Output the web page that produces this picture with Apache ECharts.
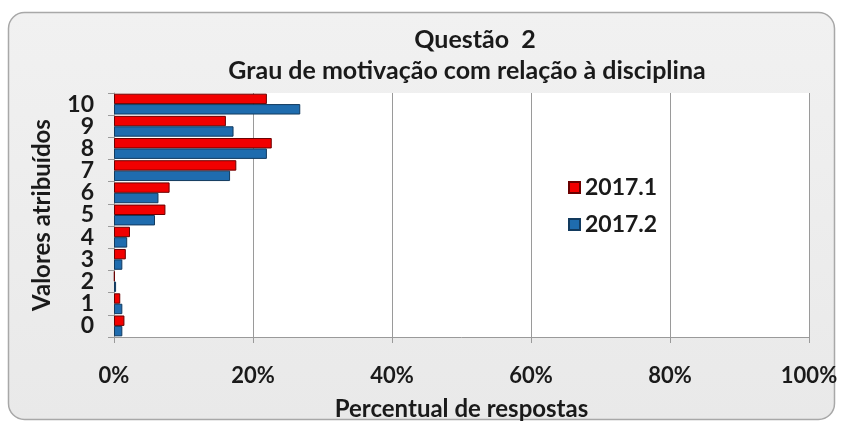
<!DOCTYPE html>
<html>
<head>
<meta charset="utf-8">
<script src="https://cdn.jsdelivr.net/npm/echarts@6/dist/echarts.min.js"></script>
<style>html,body{margin:0;padding:0;background:#fff}#c{width:846px;height:426px}</style>
</head>
<body>
<div id="c"></div>
<script>
const categories = ['0','1','2','3','4','5','6','7','8','9','10'];
const series2017_1 = [1.5, 0.9, 0.1, 1.7, 2.3, 7.4, 8.0, 17.6, 22.7, 16.1, 22.0];
const series2017_2 = [1.2, 1.2, 0.3, 1.2, 1.9, 5.9, 6.4, 16.7, 22.0, 17.2, 26.8];
const xTicks = [0, 20, 40, 60, 80, 100];
const titleMain = 'Questão  2';
const titleSub = 'Grau de motivação com relação à disciplina';

const FONT = 'Lato';
const chart = echarts.init(document.getElementById('c'), null, {renderer: 'canvas'});
chart.setOption({
  backgroundColor: '#ffffff',
  animation: false,
  graphic: [{
    type: 'rect', z: -10, silent: true,
    shape: {x: 8.5, y: 12.5, width: 826, height: 407, r: 16},
    style: {
      fill: new echarts.graphic.LinearGradient(0, 0, 0, 1, [
        {offset: 0, color: '#f1f1f1'}, {offset: 1, color: '#e9e9e9'}
      ]),
      stroke: '#a8a8a8', lineWidth: 1.5
    }
  }],
  title: [
    {text: titleMain, left: 470, top: 22, textAlign: 'center',
     textStyle: {fontFamily: FONT, fontWeight: 'bold', fontSize: 25, color: '#1a1a1a'}},
    {text: titleSub, left: 462, top: 53, textAlign: 'center',
     textStyle: {fontFamily: FONT, fontWeight: 'bold', fontSize: 25, color: '#1a1a1a'}}
  ],
  legend: {
    orient: 'vertical', left: 563, top: 171, itemWidth: 11, itemHeight: 11, itemGap: 14,
    icon: 'rect',
    textStyle: {fontFamily: FONT, fontWeight: 'bold', fontSize: 23, color: '#1a1a1a'},
    data: ['2017.1', '2017.2']
  },
  grid: {left: 114, right: 37, top: 93, bottom: 88, show: true, backgroundColor: '#ffffff', borderWidth: 0},
  xAxis: {
    type: 'value', min: 0, max: 100, interval: 20,
    name: 'Percentual de respostas', nameLocation: 'middle', nameGap: 60,
    nameTextStyle: {fontFamily: FONT, fontWeight: 'bold', fontSize: 24, color: '#1a1a1a'},
    axisLine: {show: true, lineStyle: {color: '#9a9a9a', width: 1}},
    axisTick: {show: true, length: 6, lineStyle: {color: '#9a9a9a'}},
    splitLine: {show: true, lineStyle: {color: '#9a9a9a', width: 1}},
    axisLabel: {margin: 28, fontFamily: FONT, fontWeight: 'bold', fontSize: 22, color: '#1a1a1a',
      formatter: v => xTicks.includes(v) ? v + '%' : ''}
  },
  yAxis: {
    type: 'category', data: categories,
    name: 'Valores atribuídos', nameLocation: 'middle', nameGap: 60, nameRotate: 90,
    nameTextStyle: {fontFamily: FONT, fontWeight: 'bold', fontSize: 24, color: '#1a1a1a'},
    axisLine: {show: true, lineStyle: {color: '#9a9a9a', width: 1}},
    axisTick: {show: true, length: 6, lineStyle: {color: '#9a9a9a'}},
    axisLabel: {interval: 0, margin: 20, fontFamily: FONT, fontWeight: 'bold', fontSize: 23, color: '#1a1a1a', lineHeight: 22}
  },
  series: [
    {name: '2017.1', type: 'bar', data: series2017_1, barGap: '0%', barCategoryGap: '6%',
     itemStyle: {color: '#f20000', borderColor: '#6a0000', borderWidth: 1}},
    {name: '2017.2', type: 'bar', data: series2017_2, barGap: '0%', barCategoryGap: '6%',
     itemStyle: {color: '#1f6cae', borderColor: '#123a5e', borderWidth: 1}}
  ]
});
</script>
</body>
</html>
